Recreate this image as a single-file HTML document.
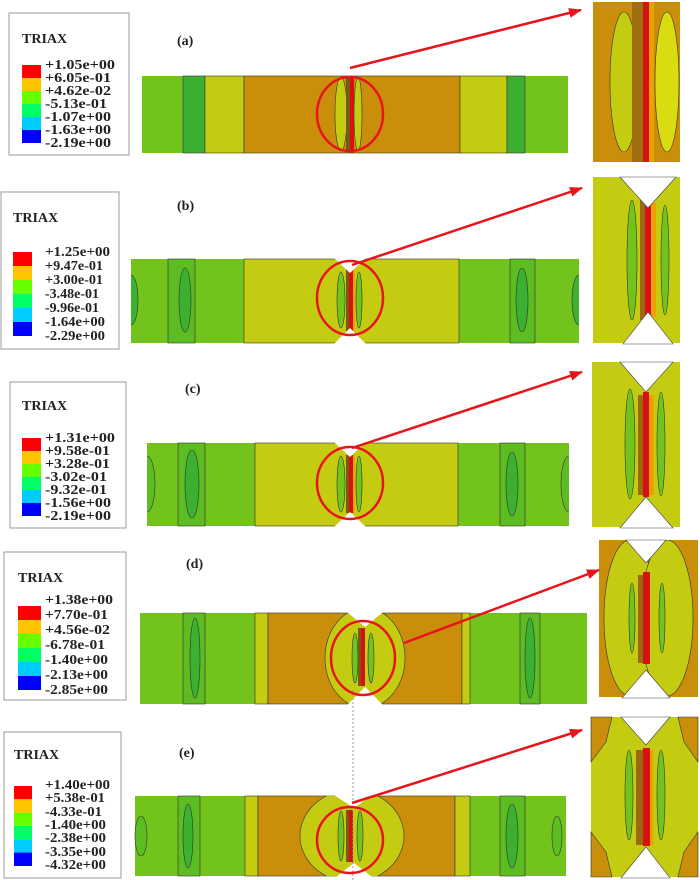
<!DOCTYPE html>
<html><head><meta charset="utf-8"><style>
html,body{margin:0;padding:0;background:#fff;}
svg{display:block;}
text{font-family:"Liberation Serif",serif;font-weight:bold;fill:#222;}
.t{font-size:14px;}
.l{font-size:14px;}
</style></head><body>
<svg width="700" height="880" viewBox="0 0 700 880" xmlns="http://www.w3.org/2000/svg">
<defs>
<marker id="ah" markerUnits="userSpaceOnUse" markerWidth="14" markerHeight="10" refX="12" refY="5" orient="auto">
<path d="M0,0 L13,5 L0,10 z" fill="#e8141c"/></marker>
<clipPath id="cb"><rect x="131" y="259" width="448" height="84"/></clipPath>
<clipPath id="cc"><rect x="147" y="443" width="422" height="83"/></clipPath>
<clipPath id="cd"><rect x="140" y="613" width="447" height="91"/></clipPath>
<clipPath id="ce"><rect x="135" y="796" width="431" height="80"/></clipPath>
<clipPath id="cdd"><rect x="599" y="540" width="99" height="157"/></clipPath>
</defs>
<g stroke="#333" stroke-width="0.6">

<!-- ===== (a) ===== -->
<rect x="142" y="76" width="426" height="77" fill="#72c41c" stroke="none"/>
<rect x="183" y="76" width="22" height="77" fill="#3cb030"/>
<rect x="205" y="76" width="39" height="77" fill="#c4cc12"/>
<rect x="244" y="76" width="216" height="77" fill="#c98e0a"/>
<rect x="460" y="76" width="47" height="77" fill="#c4cc12"/>
<rect x="507" y="76" width="18" height="77" fill="#3cb030"/>
<ellipse cx="341" cy="114" rx="6" ry="37" fill="#c4cc12"/>
<rect x="346" y="76" width="4" height="77" fill="#7a5a10" stroke="none"/>
<rect x="350" y="76" width="4" height="77" fill="#d81010" stroke="none"/>
<ellipse cx="358" cy="114" rx="4" ry="37" fill="#c4cc12"/>
<!-- detail a -->
<rect x="593" y="2" width="87" height="160" fill="#c98e0a" stroke="none"/>
<ellipse cx="624" cy="82" rx="14" ry="70" fill="#c4cc12"/>
<rect x="632" y="2" width="11" height="160" fill="#a07010" stroke="none"/>
<rect x="643" y="2" width="6" height="160" fill="#d81010" stroke="none"/>
<rect x="649" y="2" width="5" height="160" fill="#eea000" stroke="none"/>
<ellipse cx="667" cy="82" rx="12" ry="70" fill="#d8dc10"/>

<!-- ===== (b) ===== -->
<rect x="131" y="259" width="448" height="84" fill="#72c41c" stroke="none"/>
<g clip-path="url(#cb)">
<ellipse cx="131" cy="300" rx="7" ry="25" fill="#3cb030"/>
<ellipse cx="579" cy="300" rx="7" ry="25" fill="#3cb030"/>
</g>
<rect x="168" y="259" width="27" height="84" fill="#5cbc22"/>
<ellipse cx="185" cy="300" rx="6" ry="32" fill="#3cb030"/>
<rect x="244" y="259" width="215" height="84" fill="#c4cc12"/>
<rect x="510" y="259" width="25" height="84" fill="#5cbc22"/>
<ellipse cx="522" cy="300" rx="6" ry="32" fill="#3cb030"/>
<ellipse cx="341" cy="300" rx="4" ry="28" fill="#72c41c"/>
<rect x="346" y="268" width="3" height="64" fill="#7a5a10" stroke="none"/>
<rect x="349" y="268" width="4" height="64" fill="#d81010" stroke="none"/>
<rect x="353" y="268" width="2" height="64" fill="#eea000" stroke="none"/>
<ellipse cx="359" cy="300" rx="3" ry="28" fill="#72c41c"/>
<polygon points="334,258 350,273 366,258" fill="#fff" stroke="none"/>
<polygon points="334,344 350,328 366,344" fill="#fff" stroke="none"/>
<!-- detail b -->
<rect x="593" y="177" width="87" height="166" fill="#c4cc12" stroke="none"/>
<ellipse cx="632" cy="260" rx="5" ry="60" fill="#72c41c"/>
<rect x="640" y="200" width="5" height="120" fill="#9a6a10" stroke="none"/>
<rect x="645" y="203" width="6" height="114" fill="#d81010" stroke="none"/>
<rect x="651" y="203" width="5" height="114" fill="#eea000" stroke="none"/>
<ellipse cx="665" cy="260" rx="4" ry="55" fill="#72c41c"/>
<polygon points="620,177 648,208 676,177" fill="#fff" stroke="#444"/>
<polygon points="623,344 648,312 673,344" fill="#fff" stroke="#444"/>

<!-- ===== (c) ===== -->
<rect x="147" y="443" width="422" height="83" fill="#72c41c" stroke="none"/>
<g clip-path="url(#cc)">
<ellipse cx="147" cy="484" rx="8" ry="28" fill="#5cbc22"/>
<ellipse cx="569" cy="484" rx="8" ry="28" fill="#5cbc22"/>
</g>
<rect x="178" y="443" width="27" height="83" fill="#5cbc22"/>
<ellipse cx="192" cy="484" rx="7" ry="34" fill="#3cb030"/>
<rect x="255" y="443" width="203" height="83" fill="#c4cc12"/>
<rect x="500" y="443" width="25" height="83" fill="#5cbc22"/>
<ellipse cx="512" cy="484" rx="6" ry="32" fill="#3cb030"/>
<ellipse cx="341" cy="484" rx="4" ry="28" fill="#72c41c"/>
<rect x="346" y="455" width="3" height="58" fill="#7a5a10" stroke="none"/>
<rect x="349" y="455" width="4" height="58" fill="#d81010" stroke="none"/>
<rect x="353" y="455" width="2" height="58" fill="#eea000" stroke="none"/>
<ellipse cx="359" cy="484" rx="3" ry="28" fill="#72c41c"/>
<polygon points="334,442 350,457 366,442" fill="#fff" stroke="none"/>
<polygon points="334,527 350,512 366,527" fill="#fff" stroke="none"/>
<!-- detail c -->
<rect x="592" y="362" width="88" height="165" fill="#c4cc12" stroke="none"/>
<ellipse cx="630" cy="444" rx="5" ry="55" fill="#72c41c"/>
<rect x="638" y="395" width="5" height="100" fill="#9a6a10" stroke="none"/>
<rect x="643" y="392" width="6" height="105" fill="#d81010" stroke="none"/>
<rect x="649" y="395" width="5" height="100" fill="#eea000" stroke="none"/>
<ellipse cx="661" cy="444" rx="4" ry="52" fill="#72c41c"/>
<polygon points="620,362 646,392 673,362" fill="#fff" stroke="#444"/>
<polygon points="620,528 646,497 673,528" fill="#fff" stroke="#444"/>

<!-- ===== (d) ===== -->
<rect x="140" y="613" width="447" height="91" fill="#72c41c" stroke="none"/>
<rect x="183" y="613" width="22" height="91" fill="#5cbc22"/>
<ellipse cx="195" cy="658" rx="5" ry="40" fill="#3cb030"/>
<rect x="255" y="613" width="13" height="91" fill="#c4cc12"/>
<rect x="268" y="613" width="194" height="91" fill="#c98e0a"/>
<rect x="462" y="613" width="8" height="91" fill="#c4cc12"/>
<rect x="520" y="613" width="20" height="91" fill="#5cbc22"/>
<ellipse cx="530" cy="658" rx="5" ry="40" fill="#3cb030"/>
<ellipse cx="365" cy="658" rx="40" ry="50" fill="#c4cc12" clip-path="url(#cd)"/>
<ellipse cx="355" cy="658" rx="3" ry="25" fill="#72c41c"/>
<rect x="358" y="628" width="3" height="58" fill="#7a5a10" stroke="none"/>
<rect x="361" y="628" width="4" height="58" fill="#d81010" stroke="none"/>
<ellipse cx="371" cy="658" rx="3" ry="25" fill="#72c41c"/>
<polygon points="347,612 365,627 383,612" fill="#fff" stroke="none"/>
<polygon points="347,705 365,687 383,705" fill="#fff" stroke="none"/>
<!-- detail d -->
<rect x="599" y="540" width="99" height="157" fill="#c98e0a" stroke="none"/>
<g clip-path="url(#cdd)">
<ellipse cx="630" cy="618" rx="26" ry="78" fill="#c4cc12"/>
<ellipse cx="667" cy="618" rx="26" ry="78" fill="#c4cc12"/>
</g>
<ellipse cx="632" cy="618" rx="3" ry="35" fill="#72c41c"/>
<rect x="638" y="575" width="5" height="88" fill="#9a6a10" stroke="none"/>
<rect x="643" y="572" width="7" height="92" fill="#d81010" stroke="none"/>
<ellipse cx="662" cy="618" rx="3" ry="35" fill="#72c41c"/>
<polygon points="626,540 646,563 666,540" fill="#fff" stroke="#444"/>
<polygon points="622,698 646,670 670,698" fill="#fff" stroke="#444"/>

<!-- ===== (e) ===== -->
<rect x="135" y="796" width="431" height="80" fill="#72c41c" stroke="none"/>
<ellipse cx="141" cy="836" rx="6" ry="20" fill="#5cbc22"/>
<rect x="178" y="796" width="22" height="80" fill="#5cbc22"/>
<ellipse cx="188" cy="836" rx="5" ry="32" fill="#3cb030"/>
<rect x="245" y="796" width="13" height="80" fill="#c4cc12"/>
<rect x="258" y="796" width="197" height="80" fill="#c98e0a"/>
<rect x="455" y="796" width="15" height="80" fill="#c4cc12"/>
<rect x="500" y="796" width="25" height="80" fill="#5cbc22"/>
<ellipse cx="512" cy="836" rx="6" ry="32" fill="#3cb030"/>
<ellipse cx="557" cy="836" rx="5" ry="20" fill="#5cbc22"/>
<ellipse cx="352" cy="836" rx="52" ry="46" fill="#c4cc12" clip-path="url(#ce)"/>
<ellipse cx="341" cy="836" rx="3" ry="25" fill="#72c41c"/>
<rect x="346" y="810" width="3" height="52" fill="#7a5a10" stroke="none"/>
<rect x="349" y="810" width="4" height="52" fill="#d81010" stroke="none"/>
<ellipse cx="360" cy="836" rx="3" ry="25" fill="#72c41c"/>
<polygon points="334,795 354,808 372,795" fill="#fff" stroke="none"/>
<polygon points="336,877 354,863 372,877" fill="#fff" stroke="none"/>
<!-- detail e -->
<rect x="591" y="717" width="107" height="160" fill="#c4cc12" stroke="none"/>
<polygon points="591,717 612,717 606,742 591,762" fill="#c98e0a"/>
<polygon points="698,717 678,717 684,742 698,762" fill="#c98e0a"/>
<polygon points="591,877 612,877 606,852 591,832" fill="#c98e0a"/>
<polygon points="698,877 678,877 684,852 698,832" fill="#c98e0a"/>
<ellipse cx="629" cy="795" rx="4" ry="45" fill="#72c41c"/>
<rect x="636" y="750" width="7" height="95" fill="#9a6a10" stroke="none"/>
<rect x="643" y="748" width="7" height="98" fill="#d81010" stroke="none"/>
<rect x="650" y="750" width="3" height="95" fill="#eea000" stroke="none"/>
<ellipse cx="661" cy="795" rx="4" ry="45" fill="#72c41c"/>
<polygon points="621,717 646,745 670,717" fill="#fff" stroke="#444"/>
<polygon points="621,878 646,847 670,878" fill="#fff" stroke="#444"/>
</g>

<line x1="353" y1="690" x2="353" y2="880" stroke="#999" stroke-width="1" stroke-dasharray="2,2"/>

<!-- circles and arrows -->
<g fill="none" stroke="#e8141c" stroke-width="2.5">
<ellipse cx="350" cy="114" rx="33" ry="37"/>
<ellipse cx="350" cy="298" rx="33" ry="37"/>
<ellipse cx="350" cy="483" rx="33" ry="36"/>
<ellipse cx="363" cy="658" rx="32" ry="37"/>
<ellipse cx="350" cy="840" rx="33" ry="33"/>
<line x1="350" y1="68" x2="581" y2="10" marker-end="url(#ah)"/>
<line x1="352" y1="265" x2="582" y2="188" marker-end="url(#ah)"/>
<line x1="352" y1="448" x2="582" y2="372" marker-end="url(#ah)"/>
<line x1="404" y1="643" x2="599" y2="570" marker-end="url(#ah)"/>
<line x1="352" y1="803" x2="582" y2="730" marker-end="url(#ah)"/>
</g>

<!-- panel labels -->
<text class="t" x="177" y="45">(a)</text>
<text class="t" x="177" y="210">(b)</text>
<text class="t" x="185" y="393">(c)</text>
<text class="t" x="186" y="568">(d)</text>
<text class="t" x="179" y="757">(e)</text>

<!-- legend a -->
<rect x="9" y="13" width="120" height="142" fill="#fff" stroke="#999"/>
<text class="t" x="22" y="43">TRIAX</text>
<rect x="22" y="65" width="19" height="13" fill="#ff0000"/><rect x="22" y="78" width="19" height="13" fill="#ffc400"/><rect x="22" y="91" width="19" height="13" fill="#66ff00"/><rect x="22" y="104" width="19" height="13" fill="#00ff66"/><rect x="22" y="117" width="19" height="13" fill="#00ccff"/><rect x="22" y="130" width="19" height="13" fill="#0000ff"/>
<g lengthAdjust="spacingAndGlyphs">
<text class="l" x="45" y="69" textLength="70" lengthAdjust="spacingAndGlyphs">+1.05e+00</text>
<text class="l" x="45" y="82" textLength="66" lengthAdjust="spacingAndGlyphs">+6.05e-01</text>
<text class="l" x="45" y="95" textLength="66" lengthAdjust="spacingAndGlyphs">+4.62e-02</text>
<text class="l" x="45" y="108" textLength="62" lengthAdjust="spacingAndGlyphs">-5.13e-01</text>
<text class="l" x="45" y="121" textLength="66" lengthAdjust="spacingAndGlyphs">-1.07e+00</text>
<text class="l" x="45" y="134" textLength="66" lengthAdjust="spacingAndGlyphs">-1.63e+00</text>
<text class="l" x="45" y="147" textLength="66" lengthAdjust="spacingAndGlyphs">-2.19e+00</text>
</g>

<!-- legend b -->
<rect x="1" y="192" width="118" height="157" fill="#fff" stroke="#999"/>
<text class="t" x="13" y="222">TRIAX</text>
<rect x="13" y="252" width="19" height="14" fill="#ff0000"/><rect x="13" y="266" width="19" height="14" fill="#ffc400"/><rect x="13" y="280" width="19" height="14" fill="#66ff00"/><rect x="13" y="294" width="19" height="14" fill="#00ff66"/><rect x="13" y="308" width="19" height="14" fill="#00ccff"/><rect x="13" y="322" width="19" height="14" fill="#0000ff"/>
<text class="l" x="45" y="256" textLength="65" lengthAdjust="spacingAndGlyphs">+1.25e+00</text>
<text class="l" x="45" y="270" textLength="58" lengthAdjust="spacingAndGlyphs">+9.47e-01</text>
<text class="l" x="45" y="284" textLength="58" lengthAdjust="spacingAndGlyphs">+3.00e-01</text>
<text class="l" x="45" y="298" textLength="54" lengthAdjust="spacingAndGlyphs">-3.48e-01</text>
<text class="l" x="45" y="312" textLength="54" lengthAdjust="spacingAndGlyphs">-9.96e-01</text>
<text class="l" x="45" y="326" textLength="60" lengthAdjust="spacingAndGlyphs">-1.64e+00</text>
<text class="l" x="45" y="340" textLength="60" lengthAdjust="spacingAndGlyphs">-2.29e+00</text>

<!-- legend c -->
<rect x="10" y="382" width="116" height="146" fill="#fff" stroke="#999"/>
<text class="t" x="22" y="410">TRIAX</text>
<rect x="22" y="438" width="19" height="13" fill="#ff0000"/><rect x="22" y="451" width="19" height="13" fill="#ffc400"/><rect x="22" y="464" width="19" height="13" fill="#66ff00"/><rect x="22" y="477" width="19" height="13" fill="#00ff66"/><rect x="22" y="490" width="19" height="13" fill="#00ccff"/><rect x="22" y="503" width="19" height="13" fill="#0000ff"/>
<text class="l" x="45" y="442" textLength="70" lengthAdjust="spacingAndGlyphs">+1.31e+00</text>
<text class="l" x="45" y="455" textLength="65" lengthAdjust="spacingAndGlyphs">+9.58e-01</text>
<text class="l" x="45" y="468" textLength="65" lengthAdjust="spacingAndGlyphs">+3.28e-01</text>
<text class="l" x="45" y="481" textLength="62" lengthAdjust="spacingAndGlyphs">-3.02e-01</text>
<text class="l" x="45" y="494" textLength="62" lengthAdjust="spacingAndGlyphs">-9.32e-01</text>
<text class="l" x="45" y="507" textLength="66" lengthAdjust="spacingAndGlyphs">-1.56e+00</text>
<text class="l" x="45" y="520" textLength="66" lengthAdjust="spacingAndGlyphs">-2.19e+00</text>

<!-- legend d -->
<rect x="4" y="552" width="122" height="148" fill="#fff" stroke="#999"/>
<text class="t" x="18" y="582">TRIAX</text>
<rect x="18" y="606" width="23" height="14" fill="#ff0000"/><rect x="18" y="620" width="23" height="14" fill="#ffc400"/><rect x="18" y="634" width="23" height="14" fill="#66ff00"/><rect x="18" y="648" width="23" height="14" fill="#00ff66"/><rect x="18" y="662" width="23" height="14" fill="#00ccff"/><rect x="18" y="676" width="23" height="14" fill="#0000ff"/>
<text class="l" x="45" y="604" textLength="68" lengthAdjust="spacingAndGlyphs">+1.38e+00</text>
<text class="l" x="45" y="619" textLength="63" lengthAdjust="spacingAndGlyphs">+7.70e-01</text>
<text class="l" x="45" y="634" textLength="65" lengthAdjust="spacingAndGlyphs">+4.56e-02</text>
<text class="l" x="45" y="649" textLength="60" lengthAdjust="spacingAndGlyphs">-6.78e-01</text>
<text class="l" x="45" y="664" textLength="63" lengthAdjust="spacingAndGlyphs">-1.40e+00</text>
<text class="l" x="45" y="679" textLength="63" lengthAdjust="spacingAndGlyphs">-2.13e+00</text>
<text class="l" x="45" y="694" textLength="63" lengthAdjust="spacingAndGlyphs">-2.85e+00</text>

<!-- legend e -->
<rect x="4" y="732" width="117" height="146" fill="#fff" stroke="#999"/>
<text class="t" x="14" y="759">TRIAX</text>
<rect x="14" y="786" width="18" height="13.3" fill="#ff0000"/><rect x="14" y="799.3" width="18" height="13.3" fill="#ffc400"/><rect x="14" y="812.6" width="18" height="13.3" fill="#66ff00"/><rect x="14" y="826" width="18" height="13.3" fill="#00ff66"/><rect x="14" y="839.3" width="18" height="13.3" fill="#00ccff"/><rect x="14" y="852.6" width="18" height="13.4" fill="#0000ff"/>
<text class="l" x="45" y="789" textLength="65" lengthAdjust="spacingAndGlyphs">+1.40e+00</text>
<text class="l" x="45" y="802" textLength="60" lengthAdjust="spacingAndGlyphs">+5.38e-01</text>
<text class="l" x="45" y="816" textLength="57" lengthAdjust="spacingAndGlyphs">-4.33e-01</text>
<text class="l" x="45" y="829" textLength="61" lengthAdjust="spacingAndGlyphs">-1.40e+00</text>
<text class="l" x="45" y="842" textLength="61" lengthAdjust="spacingAndGlyphs">-2.38e+00</text>
<text class="l" x="45" y="856" textLength="61" lengthAdjust="spacingAndGlyphs">-3.35e+00</text>
<text class="l" x="45" y="869" textLength="61" lengthAdjust="spacingAndGlyphs">-4.32e+00</text>
</svg>
</body></html>
